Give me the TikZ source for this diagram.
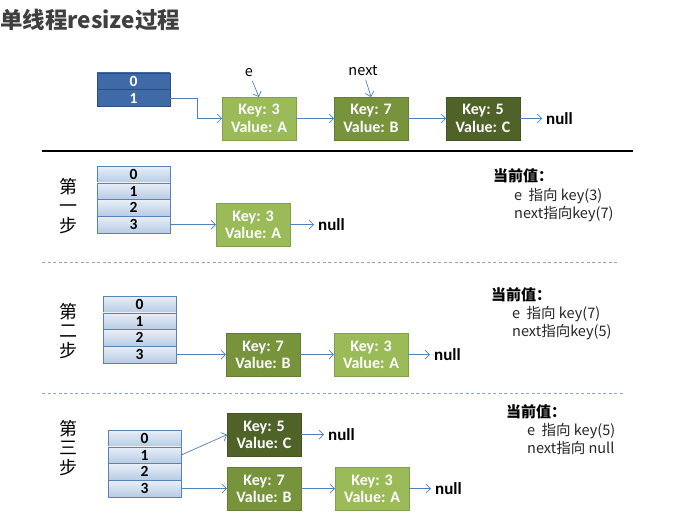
\documentclass[tikz,border=0pt]{standalone}
\usepackage{fontspec}
\setmainfont{Carlito}
\newfontfamily\cjk{Noto Sans CJK SC}
\usetikzlibrary{positioning,arrows.meta}

\definecolor{headblue}{HTML}{3E6AA8}
\definecolor{headline}{HTML}{2C4F80}
\definecolor{celltop}{HTML}{E8EFF8}
\definecolor{cellbot}{HTML}{B7CBE4}
\definecolor{cellline}{HTML}{5B82B8}
\definecolor{lightgreen}{HTML}{9BBB59}
\definecolor{midgreen}{HTML}{77933C}
\definecolor{darkgreen}{HTML}{4F6228}
\definecolor{linkblue}{HTML}{4F81BD}
\definecolor{titlegray}{HTML}{3F3F3F}
\definecolor{sepgray}{HTML}{8EA7C6}

\begin{document}
\begin{tikzpicture}[x=1pt, y=1pt, node distance=0pt, >={Straight Barb[length=4.5pt,width=9pt]}]
    % Styles
    \tikzstyle{cell} = [rectangle, draw=cellline, top color=celltop, bottom color=cellbot, minimum width=73pt, minimum height=16.75pt, inner sep=0pt, outer sep=0pt, font=\fontsize{15.5}{15.5}\selectfont\bfseries]
    \tikzstyle{headcell} = [cell, draw=headline, top color=headblue, bottom color=headblue, text=white]
    \tikzstyle{entry} = [rectangle, draw, line width=0.8pt, minimum width=74pt, minimum height=43pt, inner sep=0pt, outer sep=0pt, align=center, text=white, font=\fontsize{16}{17.5}\selectfont\bfseries]
    \tikzstyle{ka} = [entry, fill=lightgreen, draw=lightgreen!85!black]
    \tikzstyle{kb} = [entry, fill=midgreen, draw=midgreen!85!black]
    \tikzstyle{kc} = [entry, fill=darkgreen, draw=darkgreen!85!black]
    \tikzstyle{nullnode} = [inner sep=4pt, anchor=west, font=\fontsize{17}{17}\selectfont\bfseries]
    \tikzstyle{steplabel} = [align=center, font=\cjk\fontsize{18}{19.5}\selectfont]
    \tikzstyle{curhead} = [anchor=west, inner sep=0pt, font=\cjk\fontsize{15}{15}\selectfont\bfseries]
    \tikzstyle{curtext} = [anchor=north west, inner sep=0pt, align=left, text=black!85, font=\cjk\fontsize{14.5}{18}\selectfont]
    \tikzstyle{ptr} = [font=\cjk\fontsize{14.5}{14.5}\selectfont]
    \tikzstyle{line} = [draw=linkblue, line width=0.7pt, ->]

    \useasboundingbox (0,0) rectangle (675,-529);

    % Title
    \node [anchor=west, inner sep=0pt, text=titlegray, font=\cjk\fontsize{22.5}{22.5}\selectfont\bfseries] (title) at (0,-20) {单线程resize过程};

    % Before resize
    \node [headcell] (A0) at (133.5,-81.25) {0};
    \node [headcell, below=of A0] (A1) {1};
    \node [ka] (K3) at (259,-118.5) {Key: 3\\Value: A};
    \node [kb, right=38pt of K3] (K7) {Key: 7\\Value: B};
    \node [kc, right=38pt of K7] (K5) {Key: 5\\Value: C};
    \node [nullnode, right=22pt of K5] (N0) {null};
    \node [ptr] (e) at (249,-73) {e};
    \node [ptr] (next) at (363,-71) {next};

    \path [line] (A1.east) -- ++(27,0) |- (K3.west);
    \path [line] (K3) -- (K7);
    \path [line] (K7) -- (K5);
    \path [line] (K5) -- (N0);
    \path [line] (e) -- (K3.north);
    \path [line] (next) -- (K7.north);

    \draw [line width=2.5pt] (42,-151) -- (633,-151);

    % Step 1
    \node [steplabel] (s1) at (68,-206) {第\\一\\步};
    \node [cell] (B0) at (133.5,-174.4) {0};
    \node [cell, below=of B0] (B1) {1};
    \node [cell, below=of B1] (B2) {2};
    \node [cell, below=of B2] (B3) {3};
    \node [ka, right=46pt of B3] (B3a) {Key: 3\\Value: A};
    \node [nullnode, right=24pt of B3a] (N1) {null};
    \path [line] (B3) -- (B3a);
    \path [line] (B3a) -- (N1);

    \node [curhead] (v1) at (493,-176) {当前值：};
    \node [curtext] (w1) at (514,-188) {e\ \ 指向 key(3)\\next指向key(7)};

    \draw [sepgray, line width=0.8pt, dash pattern=on 3pt off 2.5pt] (42,-262) -- (618,-262);

    % Step 2
    \node [steplabel] (s2) at (68,-331) {第\\二\\步};
    \node [cell] (C0) at (139.5,-304.4) {0};
    \node [cell, below=of C0] (C1) {1};
    \node [cell, below=of C1] (C2) {2};
    \node [cell, below=of C2] (C3) {3};
    \node [kb, right=50pt of C3] (C3a) {Key: 7\\Value: B};
    \node [ka, right=34pt of C3a] (C3b) {Key: 3\\Value: A};
    \node [nullnode, right=22pt of C3b] (N2) {null};
    \path [line] (C3) -- (C3a);
    \path [line] (C3a) -- (C3b);
    \path [line] (C3b) -- (N2);

    \node [curhead] (v2) at (491,-295) {当前值：};
    \node [curtext] (w2) at (512,-306) {e\ \ 指向 key(7)\\next指向key(5)};

    \draw [sepgray, line width=0.8pt, dash pattern=on 3pt off 2.5pt] (42,-393) -- (625,-393);

    % Step 3
    \node [steplabel] (s3) at (68,-448) {第\\三\\步};
    \node [cell] (D0) at (144.5,-438.4) {0};
    \node [cell, below=of D0] (D1) {1};
    \node [cell, below=of D1] (D2) {2};
    \node [cell, below=of D2] (D3) {3};
    \node [kb, right=46pt of D3] (D3a) {Key: 7\\Value: B};
    \node [ka, right=34pt of D3a] (D3b) {Key: 3\\Value: A};
    \node [kc, above=11pt of D3a] (D1a) {Key: 5\\Value: C};
    \node [nullnode, right=22pt of D3b] (N3) {null};
    \node [nullnode, right=23pt of D1a] (N4) {null};
    \path [line] (D1.east) -- (D1a.west);
    \path [line] (D1a) -- (N4);
    \path [line] (D3) -- (D3a);
    \path [line] (D3a) -- (D3b);
    \path [line] (D3b) -- (N3);

    \node [curhead] (v3) at (506,-412) {当前值：};
    \node [curtext] (w3) at (527,-423) {e\ \ 指向 key(5)\\next指向 null};
\end{tikzpicture}
\end{document}
